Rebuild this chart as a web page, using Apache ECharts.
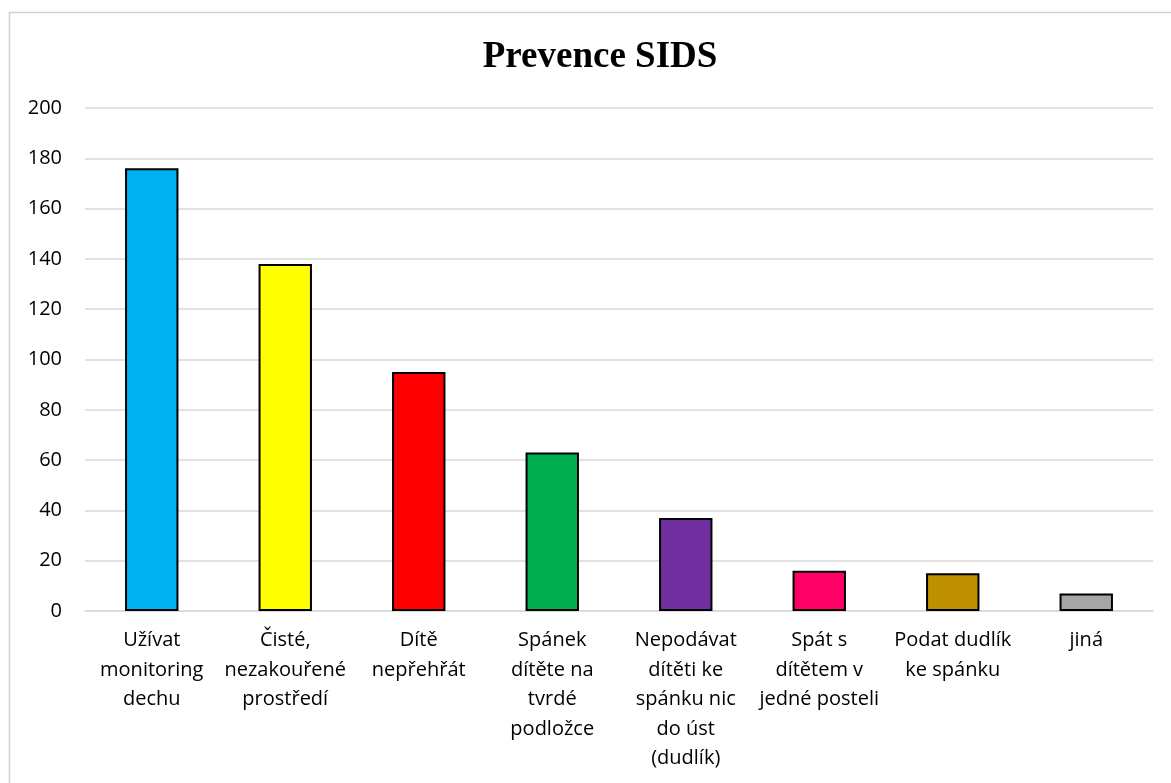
<!DOCTYPE html>
<html>
<head>
<meta charset="utf-8">
<script src="https://cdn.jsdelivr.net/npm/echarts@6/dist/echarts.min.js"></script>
<style>
  html, body { margin: 0; padding: 0; background: #fff; }
  #chart { width: 1171px; height: 783px; }
</style>
</head>
<body>
<div id="chart"></div>
<script>
// Survey answers: recommended SIDS prevention measures
const categories = [
  'Užívat\nmonitoring\ndechu',
  'Čisté,\nnezakouřené\nprostředí',
  'Dítě\nnepřehřát',
  'Spánek\ndítěte na\ntvrdé\npodložce',
  'Nepodávat\ndítěti ke\nspánku nic\ndo úst\n(dudlík)',
  'Spát s\ndítětem v\njedné posteli',
  'Podat dudlík\nke spánku',
  'jiná'
];
const counts = [176, 138, 95, 63, 37, 16, 15, 7];
const barColors = ['#00B0F0', '#FFFF00', '#FF0000', '#00B050', '#7030A0', '#FF0066', '#BF9000', '#A5A5A5'];
const yTicks = { min: 0, max: 200, interval: 20 };

const labelFont = '"Open Sans", "Noto Sans", sans-serif';

const chart = echarts.init(document.getElementById('chart'), null, { renderer: 'canvas' });
chart.setOption({
  animation: false,
  backgroundColor: '#ffffff',
  title: {
    text: 'Prevence SIDS',
    left: 595,
    top: 34,
    textAlign: 'center',
    textStyle: {
      fontFamily: '"Liberation Serif", "Times New Roman", serif',
      fontWeight: 'bold',
      fontSize: 37,
      color: '#000'
    }
  },
  graphic: [{
    type: 'rect',
    shape: { x: 9.5, y: 12.5, width: 1180, height: 800 },
    style: { fill: 'none', stroke: '#d0d0d0', lineWidth: 1.5 },
    silent: true
  }],
  grid: { left: 85, right: 18, top: 108, bottom: 172, containLabel: false },
  xAxis: {
    type: 'category',
    data: categories,
    axisLine: { show: true, lineStyle: { color: '#d9d9d9', width: 1.5 } },
    axisTick: { show: false },
    axisLabel: {
      interval: 0,
      margin: 15,
      fontFamily: labelFont,
      fontSize: 20,
      lineHeight: 29.5,
      color: '#000',
      align: 'center',
      verticalAlign: 'top'
    }
  },
  yAxis: {
    type: 'value',
    min: yTicks.min,
    max: yTicks.max,
    interval: yTicks.interval,
    axisLine: { show: false },
    axisTick: { show: false },
    splitLine: { lineStyle: { color: '#d9d9d9', width: 1.5 } },
    axisLabel: {
      margin: 23,
      fontFamily: labelFont,
      fontSize: 20,
      color: '#000'
    }
  },
  series: [{
    type: 'bar',
    data: counts.map((v, i) => ({ value: v, itemStyle: { color: barColors[i] } })),
    barWidth: '40%',
    itemStyle: { borderColor: '#000', borderWidth: 2 }
  }]
});
</script>
</body>
</html>
